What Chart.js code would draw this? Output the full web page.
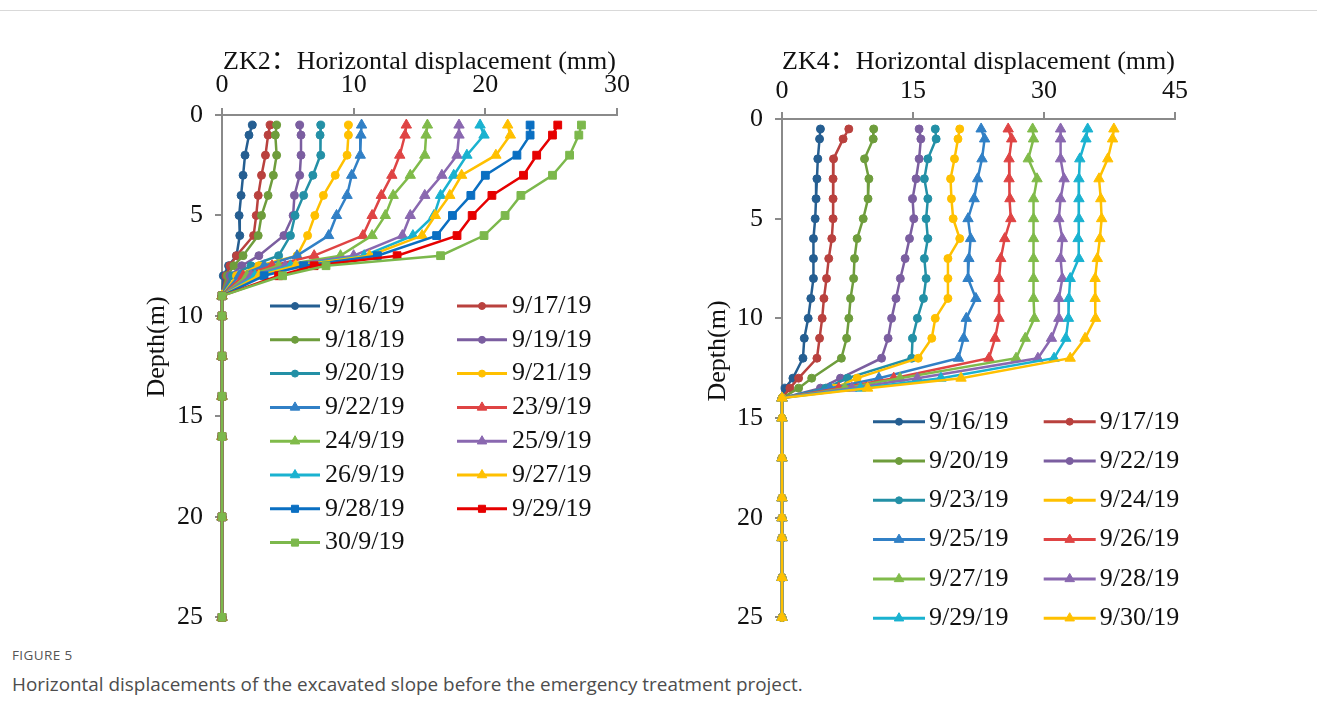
<!DOCTYPE html>
<html>
<head>
<meta charset="utf-8">
<title>Horizontal displacements</title>
<script src="https://cdn.jsdelivr.net/npm/chart.js@4.4.1/dist/chart.umd.min.js"></script>
<style>
  body { margin: 0; background: #fff; width: 1317px; height: 720px; overflow: hidden; position: relative; }
  .frame { position: absolute; left: 0; top: 10px; width: 1317px; border-top: 1px solid #d9d9d9; }
  .box { position: absolute; top: 0; height: 645px; }
  #zk2box { left: 0; width: 660px; }
  #zk4box { left: 660px; width: 657px; }
  .fig-no { position: absolute; left: 12px; top: 646px; font: 13.5px "Open Sans", sans-serif; color: #555; letter-spacing: 0.4px; }
  .fig-cap { position: absolute; left: 12px; top: 671px; font: 18.9px "Open Sans", sans-serif; color: #4d4d4d; }
</style>
</head>
<body>
<div class="frame"></div>
<div class="box" id="zk2box"><canvas id="zk2" width="660" height="645"></canvas></div>
<div class="box" id="zk4box"><canvas id="zk4" width="657" height="645"></canvas></div>
<div class="fig-no">FIGURE 5</div>
<div class="fig-cap">Horizontal displacements of the excavated slope before the emergency treatment project.</div>

<script>
// ---- ZK2 inclinometer (depth in m, displacement in mm) ----
const zk2Depths = [0.5, 1, 2, 3, 4, 5, 6, 7, 7.5, 8, 9, 10, 12, 14, 16, 20, 25];
const zk2Dates = ['9/16/19', '9/17/19', '9/18/19', '9/19/19', '9/20/19', '9/21/19', '9/22/19', '23/9/19',
                  '24/9/19', '25/9/19', '26/9/19', '9/27/19', '9/28/19', '9/29/19', '30/9/19'];
const zk2_0916 = [2.3, 2.05, 1.75, 1.6, 1.45, 1.3, 1.35, 1.1, 0.5, 0.1, 0, 0, 0, 0, 0, 0, 0];
const zk2_0917 = [3.65, 3.5, 3.3, 3.0, 2.75, 2.6, 2.4, 1.1, 0.6, 0.3, 0, 0, 0, 0, 0, 0, 0];
const zk2_0918 = [4.15, 4.05, 4.15, 3.9, 3.5, 3.0, 2.75, 1.6, 0.9, 0.4, 0, 0, 0, 0, 0, 0, 0];
const zk2_0919 = [5.9, 6.0, 6.0, 5.9, 5.5, 5.4, 4.7, 2.8, 1.5, 0.6, 0, 0, 0, 0, 0, 0, 0];
const zk2_0920 = [7.5, 7.45, 7.5, 6.9, 6.2, 5.55, 5.2, 4.3, 2.2, 0.8, 0, 0, 0, 0, 0, 0, 0];
const zk2_0921 = [9.6, 9.6, 9.5, 8.6, 7.7, 7.05, 6.5, 5.7, 2.8, 1.1, 0, 0, 0, 0, 0, 0, 0];
const zk2_0922 = [10.6, 10.55, 10.5, 9.85, 9.5, 8.7, 8.1, 5.7, 3.2, 1.3, 0, 0, 0, 0, 0, 0, 0];
const zk2_0923 = [14.0, 13.9, 13.5, 12.9, 12.1, 11.4, 10.7, 7.0, 3.8, 1.6, 0, 0, 0, 0, 0, 0, 0];
const zk2_0924 = [15.6, 15.5, 15.4, 14.3, 13.0, 12.4, 11.4, 9.0, 4.3, 1.9, 0, 0, 0, 0, 0, 0, 0];
const zk2_0925 = [18.0, 18.0, 17.85, 16.7, 15.4, 14.3, 13.7, 10.0, 4.8, 2.2, 0, 0, 0, 0, 0, 0, 0];
const zk2_0926 = [19.6, 19.9, 18.6, 17.6, 16.6, 16.1, 14.5, 10.8, 5.2, 2.5, 0, 0, 0, 0, 0, 0, 0];
const zk2_0927 = [21.7, 21.9, 20.8, 18.2, 17.3, 16.2, 15.2, 11.2, 5.6, 2.8, 0, 0, 0, 0, 0, 0, 0];
const zk2_0928 = [23.4, 23.4, 22.4, 20.0, 18.9, 17.5, 16.3, 11.8, 6.2, 3.2, 0, 0, 0, 0, 0, 0, 0];
const zk2_0929 = [25.5, 25.1, 23.9, 22.9, 20.5, 19.0, 17.85, 13.3, 7.0, 4.3, 0, 0, 0, 0, 0, 0, 0];
const zk2_0930 = [27.3, 27.1, 26.4, 25.1, 22.7, 21.5, 19.9, 16.6, 7.9, 4.6, 0, 0, 0, 0, 0, 0, 0];
const zk2Series = [zk2_0916, zk2_0917, zk2_0918, zk2_0919, zk2_0920, zk2_0921, zk2_0922, zk2_0923,
                   zk2_0924, zk2_0925, zk2_0926, zk2_0927, zk2_0928, zk2_0929, zk2_0930];
const zk2Ticks = [0, 10, 20, 30];

// ---- ZK4 inclinometer ----
const zk4Depths = [0.5, 1, 2, 3, 4, 5, 6, 7, 8, 9, 10, 11, 12, 13, 13.5, 14, 15, 17, 19, 20, 21, 23, 25];
const zk4Dates = ['9/16/19', '9/17/19', '9/20/19', '9/22/19', '9/23/19', '9/24/19',
                  '9/25/19', '9/26/19', '9/27/19', '9/28/19', '9/29/19', '9/30/19'];
const zk4_0916 = [4.4, 4.3, 4.1, 4.0, 3.9, 3.8, 3.6, 3.6, 3.6, 3.3, 3.0, 2.55, 2.4, 1.25, 0.35, 0, 0, 0, 0, 0, 0, 0, 0];
const zk4_0917 = [7.65, 7.0, 5.9, 5.85, 5.85, 5.85, 5.7, 5.35, 5.1, 4.8, 4.6, 4.3, 4.0, 1.9, 0.9, 0, 0, 0, 0, 0, 0, 0, 0];
const zk4_0920 = [10.5, 10.45, 9.45, 9.95, 9.85, 9.3, 8.6, 8.3, 8.2, 7.85, 7.65, 7.4, 6.8, 3.4, 1.9, 0, 0, 0, 0, 0, 0, 0, 0];
const zk4_0922 = [15.7, 15.9, 15.7, 15.35, 14.95, 15.1, 14.6, 14.1, 13.55, 13.05, 12.55, 12.15, 11.4, 6.7, 4.4, 0, 0, 0, 0, 0, 0, 0, 0];
const zk4_0923 = [17.55, 17.65, 16.7, 16.3, 16.7, 16.5, 16.7, 16.3, 16.5, 16.2, 15.5, 14.95, 14.85, 7.5, 5.0, 0, 0, 0, 0, 0, 0, 0, 0];
const zk4_0924 = [20.35, 20.15, 19.75, 19.3, 19.4, 19.6, 20.35, 19.0, 19.0, 19.0, 17.55, 17.15, 15.6, 8.6, 6.0, 0, 0, 0, 0, 0, 0, 0, 0];
const zk4_0925 = [22.8, 23.2, 22.9, 22.4, 22.0, 21.3, 21.6, 21.4, 21.3, 22.2, 21.1, 20.8, 20.2, 11.1, 5.5, 0, 0, 0, 0, 0, 0, 0, 0];
const zk4_0926 = [25.9, 26.3, 26.0, 26.0, 26.1, 26.2, 25.5, 25.05, 24.85, 24.85, 24.85, 24.4, 23.7, 12.8, 6.5, 0, 0, 0, 0, 0, 0, 0, 0];
const zk4_0927 = [28.7, 28.8, 28.2, 29.2, 28.8, 28.8, 28.8, 28.8, 28.8, 28.8, 28.9, 27.85, 26.8, 13.5, 7.2, 0, 0, 0, 0, 0, 0, 0, 0];
const zk4_0928 = [31.9, 31.9, 31.9, 32.3, 31.9, 31.7, 32.1, 31.9, 32.1, 31.7, 31.7, 30.85, 29.3, 15.5, 8.0, 0, 0, 0, 0, 0, 0, 0, 0];
const zk4_0929 = [35.0, 34.8, 34.1, 34.0, 34.0, 34.0, 33.9, 34.0, 33.0, 32.85, 32.8, 32.5, 31.15, 18.2, 9.0, 0, 0, 0, 0, 0, 0, 0, 0];
const zk4_0930 = [38.0, 37.85, 37.3, 36.3, 36.5, 36.6, 36.4, 36.1, 35.85, 35.85, 35.9, 34.7, 33.0, 20.5, 9.8, 0, 0, 0, 0, 0, 0, 0, 0];
const zk4Series = [zk4_0916, zk4_0917, zk4_0920, zk4_0922, zk4_0923, zk4_0924,
                   zk4_0925, zk4_0926, zk4_0927, zk4_0928, zk4_0929, zk4_0930];
const zk4Ticks = [0, 15, 30, 45];

const depthTicks = [0, 5, 10, 15, 20, 25];

// line colours / markers, Excel-ish palette
const zk2Colors = ['#255e91', '#b9413e', '#6e9d3c', '#7b5ea0', '#2390a6', '#ffc000', '#3180c6', '#df4444',
                   '#80bb4a', '#8a68b0', '#1ab2d0', '#ffc000', '#0a6fc2', '#e60000', '#7cb84c'];
const zk2Markers = ['circle', 'circle', 'circle', 'circle', 'circle', 'circle', 'triangle', 'triangle',
                    'triangle', 'triangle', 'triangle', 'triangle', 'rect', 'rect', 'rect'];
const zk4Colors = ['#255e91', '#b9413e', '#6e9d3c', '#7b5ea0', '#2390a6', '#ffc000',
                   '#3180c6', '#df4444', '#80bb4a', '#8a68b0', '#1ab2d0', '#ffc000'];
const zk4Markers = ['circle', 'circle', 'circle', 'circle', 'circle', 'circle',
                    'triangle', 'triangle', 'triangle', 'triangle', 'triangle', 'triangle'];

const SERIF = '"Liberation Serif", "Times New Roman", "Noto Sans CJK SC", serif';
const AXIS_GRAY = '#8a8a8a';
const markerRadius = { circle: 4, triangle: 6, rect: 5.5 };

function buildDatasets(dates, series, depths, colors, markers) {
  const n = series.length;
  return series.map((vals, i) => ({
    label: dates[i],
    data: vals.map((v, k) => ({ x: v, y: depths[k] })),
    showLine: true,
    borderColor: colors[i],
    backgroundColor: colors[i],
    borderWidth: 2.5,
    pointStyle: markers[i],
    pointRadius: markerRadius[markers[i]],
    pointBorderWidth: 1,
    pointBorderColor: colors[i],
    pointBackgroundColor: colors[i],
    tension: 0,
    clip: false,
    order: n - 1 - i   // later dates drawn on top
  }));
}

// two-column legend inside the plot area, plus the rotated depth label
const gridLegend = {
  id: 'gridLegend',
  afterDraw(chart, args, opts) {
    const { ctx, chartArea } = chart;
    ctx.save();
    ctx.font = opts.font;
    ctx.textBaseline = 'middle';
    ctx.textAlign = 'left';
    chart.data.datasets.forEach((ds, i) => {
      const col = i % 2, row = Math.floor(i / 2);
      const x = chartArea.left + opts.x + col * opts.colWidth;
      const y = chartArea.top + opts.y + row * opts.rowHeight;
      ctx.strokeStyle = ds.borderColor;
      ctx.lineWidth = 3;
      ctx.beginPath();
      ctx.moveTo(x, y);
      ctx.lineTo(x + opts.lineLength, y);
      ctx.stroke();
      ctx.fillStyle = ds.borderColor;
      ctx.lineWidth = 1;
      const r = ds.pointStyle === 'triangle' ? 5.5 : ds.pointStyle === 'rect' ? 5 : 3.5;
      Chart.helpers.drawPoint(ctx, { pointStyle: ds.pointStyle, radius: r, borderWidth: 1, rotation: 0 },
                              x + opts.lineLength / 2, y);
      ctx.fillStyle = '#111';
      ctx.fillText(ds.label, x + opts.lineLength + opts.gap, y);
    });

    // y-axis title
    ctx.translate(chartArea.left - opts.depthDx, chartArea.top + opts.depthDy);
    ctx.rotate(-Math.PI / 2);
    ctx.textAlign = 'center';
    ctx.fillStyle = '#111';
    ctx.fillText('Depth(m)', 0, 0);
    ctx.restore();
  }
};

function makeChart(id, datasets, xTicks, title, box, legendOpts) {
  const xMax = xTicks[xTicks.length - 1];
  return new Chart(document.getElementById(id), {
    type: 'scatter',
    data: { datasets },
    plugins: [gridLegend],
    options: {
      responsive: false,
      animation: false,
      events: [],
      layout: { padding: box.padding },
      scales: {
        x: {
          type: 'linear',
          position: 'top',
          min: 0, max: xMax,
          afterFit: s => { s.height = box.xHeight; },
          afterBuildTicks: s => { s.ticks = xTicks.map(v => ({ value: v })); },
          ticks: { color: '#111', font: { family: SERIF, size: 26 }, padding: box.xTickPad, maxRotation: 0 },
          grid: { drawOnChartArea: false, drawTicks: true, tickLength: 7, color: AXIS_GRAY, lineWidth: 2 },
          border: { display: true, color: AXIS_GRAY, width: 2 },
          title: { display: true, text: title, color: '#111', font: { family: SERIF, size: 26 }, padding: 0 }
        },
        y: {
          type: 'linear',
          position: 'left',
          reverse: true,
          min: 0, max: 25,
          afterFit: s => { s.width = box.yWidth; },
          afterBuildTicks: s => { s.ticks = depthTicks.map(v => ({ value: v })); },
          ticks: { color: '#111', font: { family: SERIF, size: 26 }, padding: 12 },
          grid: { drawOnChartArea: false, drawTicks: true, tickLength: 7, color: AXIS_GRAY, lineWidth: 2 },
          border: { display: true, color: AXIS_GRAY, width: 2 },
          title: { display: false }
        }
      },
      plugins: {
        legend: { display: false },
        tooltip: { enabled: false },
        gridLegend: legendOpts
      }
    }
  });
}

makeChart('zk2',
  buildDatasets(zk2Dates, zk2Series, zk2Depths, zk2Colors, zk2Markers),
  zk2Ticks, 'ZK2\uFF1AHorizontal displacement (mm)',
  { padding: { left: 141, top: 47, right: 43, bottom: 25 }, xHeight: 68, yWidth: 81, xTickPad: 7 },
  { font: '26px ' + SERIF, x: 48, y: 191, colWidth: 187, rowHeight: 33.8, lineLength: 50, gap: 5,
    depthDx: 65, depthDy: 232 });

makeChart('zk4',
  buildDatasets(zk4Dates, zk4Series, zk4Depths, zk4Colors, zk4Markers),
  zk4Ticks, 'ZK4\uFF1AHorizontal displacement (mm)',
  { padding: { left: 42, top: 47, right: 142, bottom: 27 }, xHeight: 72, yWidth: 80, xTickPad: 5 },
  { font: '26px ' + SERIF, x: 91, y: 302.7, colWidth: 170.7, rowHeight: 39.3, lineLength: 52, gap: 4,
    depthDx: 64, depthDy: 232 });
</script>
</body>
</html>
